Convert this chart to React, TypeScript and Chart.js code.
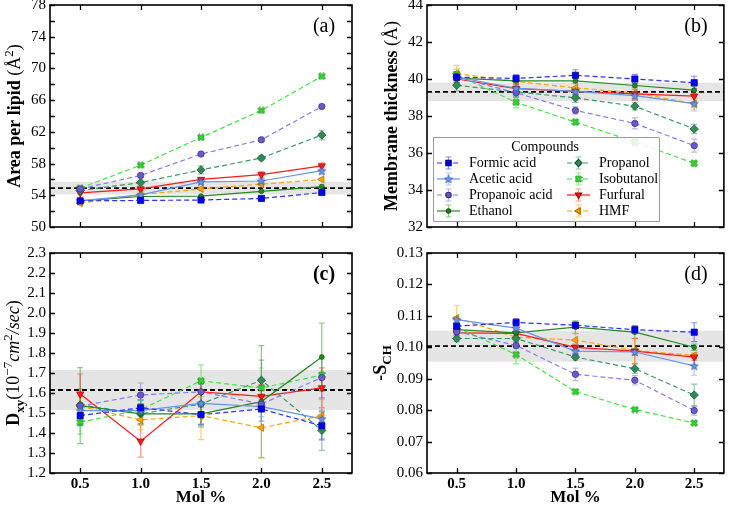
import React, { useEffect, useRef } from "react";
import { Chart, registerables } from "chart.js";
import { drawPoint } from "chart.js/helpers";

Chart.register(...registerables);

const SERIF = '"Liberation Serif", "Times New Roman", serif';

// ---- shared categories ----
const molPercent = [0.5, 1.0, 1.5, 2.0, 2.5];
const compounds = [
  "Formic acid",
  "Acetic acid",
  "Propanoic acid",
  "Ethanol",
  "Propanol",
  "Isobutanol",
  "Furfural",
  "HMF",
];

// ---- (a) area per lipid, Å² (rows follow `compounds`) ----
const areaValues = [
  [53.3, 53.35, 53.4, 53.6, 54.35],
  [53.3, 54.05, 55.7, 55.8, 57.1],
  [54.8, 56.5, 59.2, 61.0, 65.2],
  [53.3, 53.85, 53.9, 54.5, 55.1],
  [54.6, 55.6, 57.2, 58.7, 61.6],
  [54.9, 57.8, 61.3, 64.7, 69.0],
  [54.3, 54.8, 56.0, 56.6, 57.7],
  [53.0, 54.1, 54.8, 55.4, 56.0],
];
const areaErrors = [
  [0.15, 0.2, 0.2, 0.25, 0.2],
  [0.2, 0.2, 0.3, 0.3, 0.5],
  [0.2, 0.2, 0.2, 0.2, 0.2],
  [0.2, 0.1, 0.1, 0.15, 0.2],
  [0.2, 0.3, 0.5, 0.3, 0.6],
  [0.1, 0.1, 0.1, 0.1, 0.1],
  [0.15, 0.2, 0.2, 0.4, 0.4],
  [0.2, 0.2, 0.2, 0.2, 0.2],
];
const areaRef = 54.9;
const areaBand = [54.1, 55.7];
const areaTicks = [50, 52, 54, 56, 58, 60, 62, 64, 66, 68, 70, 72, 74, 76, 78];
const areaTickLabels = [50, 54, 58, 62, 66, 70, 74, 78];

// ---- (b) membrane thickness, Å ----
const thickValues = [
  [40.1, 40.03, 40.2, 40.0, 39.8],
  [40.1, 39.5, 39.33, 39.1, 38.67],
  [40.1, 39.25, 38.3, 37.6, 36.4],
  [40.05, 39.9, 39.9, 39.65, 39.4],
  [39.66, 39.3, 38.98, 38.53, 37.3],
  [40.23, 38.74, 37.67, 36.6, 35.44],
  [40.0, 39.48, 39.33, 39.2, 39.07],
  [40.29, 39.87, 39.52, 39.25, 38.67],
];
const thickErrors = [
  [0.3, 0.2, 0.3, 0.25, 0.35],
  [0.3, 0.2, 0.2, 0.2, 0.4],
  [0.3, 0.2, 0.2, 0.3, 0.35],
  [0.2, 0.15, 0.15, 0.2, 0.2],
  [0.3, 0.3, 0.25, 0.2, 0.25],
  [0.3, 0.3, 0.15, 0.2, 0.15],
  [0.3, 0.2, 0.2, 0.35, 0.3],
  [0.45, 0.25, 0.25, 0.3, 0.3],
];
const thickRef = 39.3;
const thickBand = [38.8, 39.8];
const thickTicks = [32, 34, 36, 38, 40, 42, 44];

// ---- (c) lateral diffusion, 10^-7 cm²/s ----
const diffValues = [
  [1.487, 1.526, 1.492, 1.52, 1.436],
  [1.512, 1.512, 1.548, 1.532, 1.471],
  [1.535, 1.59, 1.606, 1.545, 1.677],
  [1.537, 1.496, 1.496, 1.557, 1.78],
  [1.54, 1.496, 1.545, 1.664, 1.413],
  [1.454, 1.516, 1.661, 1.625, 1.69],
  [1.595, 1.359, 1.606, 1.583, 1.626],
  [1.533, 1.466, 1.487, 1.426, 1.487],
];
const diffErrors = [
  [0.05, 0.04, 0.05, 0.06, 0.07],
  [0.04, 0.05, 0.12, 0.05, 0.1],
  [0.06, 0.06, 0.06, 0.12, 0.1],
  [0.19, 0.05, 0.06, 0.28, 0.17],
  [0.08, 0.05, 0.1, 0.1, 0.1],
  [0.06, 0.05, 0.08, 0.1, 0.08],
  [0.1, 0.08, 0.06, 0.06, 0.1],
  [0.05, 0.05, 0.12, 0.15, 0.08],
];
const diffRef = 1.615;
const diffBand = [1.515, 1.715];
const diffTicks = [1.2, 1.3, 1.4, 1.5, 1.6, 1.7, 1.8, 1.9, 2.0, 2.1, 2.2, 2.3];

// ---- (d) order parameter -S_CH ----
const orderValues = [
  [0.1067, 0.1079, 0.107, 0.1056, 0.1048],
  [0.1088, 0.1061, 0.0988, 0.0985, 0.0941],
  [0.105, 0.1006, 0.0914, 0.0895, 0.0799],
  [0.1056, 0.1046, 0.1064, 0.1048, 0.1],
  [0.1028, 0.1028, 0.0969, 0.0932, 0.0848],
  [0.1064, 0.0977, 0.0859, 0.0802, 0.0759],
  [0.1046, 0.1044, 0.1, 0.0988, 0.0969],
  [0.1093, 0.1032, 0.1023, 0.099, 0.0974],
];
const orderErrors = [
  [0.001, 0.0012, 0.001, 0.0012, 0.003],
  [0.001, 0.001, 0.001, 0.001, 0.003],
  [0.001, 0.001, 0.002, 0.0015, 0.0015],
  [0.001, 0.001, 0.002, 0.002, 0.001],
  [0.001, 0.001, 0.001, 0.0015, 0.0035],
  [0.001, 0.003, 0.0005, 0.0005, 0.0005],
  [0.001, 0.002, 0.001, 0.004, 0.001],
  [0.004, 0.001, 0.002, 0.004, 0.001],
];
const orderRef = 0.1004;
const orderBand = [0.0954, 0.1053];
const orderTicks = [0.06, 0.07, 0.08, 0.09, 0.1, 0.11, 0.12, 0.13];

// ---- series styling ----
const markerFill = ["#0000F0", "#6495ED", "#6A5ACD", "#228B22", "#2E8B57", "#2FE02F", "#FF1A1A", "#FFA500"];
const lineColor = ["#2F2FFF", "#6495ED", "#8A7BF0", "#228B22", "#3A9A66", "#3FE83F", "#FF1A1A", "#FFA500"];
const markerEdge = ["#00008A", "#3050A0", "#3A2E8A", "#145214", "#1A5235", "#1A801A", "#A00000", "#B06E00"];
const errorColor = [
  "rgba(0,0,255,0.45)",
  "rgba(100,149,237,0.5)",
  "rgba(106,90,205,0.45)",
  "rgba(34,139,34,0.5)",
  "rgba(46,139,87,0.5)",
  "rgba(47,224,47,0.55)",
  "rgba(255,26,26,0.45)",
  "rgba(255,165,0,0.55)",
];
const dashed = [true, false, true, false, true, true, false, true];

function makeStar(fill: string, edge: string) {
  const c = document.createElement("canvas");
  c.width = 10;
  c.height = 10;
  const g = c.getContext("2d")!;
  g.beginPath();
  for (let k = 0; k < 10; k++) {
    const r = k % 2 === 0 ? 4.4 : 1.9;
    const ang = -Math.PI / 2 + (k * Math.PI) / 5;
    const px = 5 + r * Math.cos(ang);
    const py = 5.4 + r * Math.sin(ang);
    if (k === 0) g.moveTo(px, py);
    else g.lineTo(px, py);
  }
  g.closePath();
  g.fillStyle = fill;
  g.fill();
  g.strokeStyle = edge;
  g.lineWidth = 0.6;
  g.stroke();
  return c;
}

function makeCross(fill: string, edge: string) {
  const c = document.createElement("canvas");
  c.width = 8;
  c.height = 8;
  const g = c.getContext("2d")!;
  g.lineCap = "butt";
  g.strokeStyle = edge;
  g.lineWidth = 3.0;
  g.beginPath();
  g.moveTo(1.2, 1.2);
  g.lineTo(6.8, 6.8);
  g.moveTo(6.8, 1.2);
  g.lineTo(1.2, 6.8);
  g.stroke();
  g.strokeStyle = fill;
  g.lineWidth = 1.7;
  g.beginPath();
  g.moveTo(1.6, 1.6);
  g.lineTo(6.4, 6.4);
  g.moveTo(6.4, 1.6);
  g.lineTo(1.6, 6.4);
  g.stroke();
  return c;
}

function markerFor(i: number) {
  switch (i) {
    case 0:
      return { pointStyle: "rect", radius: 4.4, rotation: 0 };
    case 1:
      return { pointStyle: makeStar(markerFill[1], markerEdge[1]), radius: 4, rotation: 0 };
    case 2:
      return { pointStyle: "circle", radius: 3.2, rotation: 0 };
    case 3:
      return { pointStyle: "circle", radius: 2.4, rotation: 0 };
    case 4:
      return { pointStyle: "rectRot", radius: 4.2, rotation: 0 };
    case 5:
      return { pointStyle: makeCross(markerFill[5], markerEdge[5]), radius: 4, rotation: 0 };
    case 6:
      return { pointStyle: "triangle", radius: 4.2, rotation: 180 };
    default:
      return { pointStyle: "triangle", radius: 4.2, rotation: 270 };
  }
}

type Seg = { t: string; bold?: boolean; italic?: boolean; sub?: boolean; sup?: boolean };

function drawRotatedRich(ctx: CanvasRenderingContext2D, segs: Seg[], cx: number, cy: number, size: number) {
  const fontFor = (s: Seg) =>
    `${s.italic ? "italic " : ""}${s.bold ? "bold " : ""}${s.sub || s.sup ? Math.round(size * 0.7) : size}px ${SERIF}`;
  ctx.save();
  ctx.translate(cx, cy);
  ctx.rotate(-Math.PI / 2);
  let total = 0;
  segs.forEach((s) => {
    ctx.font = fontFor(s);
    total += ctx.measureText(s.t).width;
  });
  let x = -total / 2;
  ctx.fillStyle = "#000";
  ctx.textAlign = "left";
  ctx.textBaseline = "alphabetic";
  segs.forEach((s) => {
    ctx.font = fontFor(s);
    const dy = s.sub ? size * 0.28 : s.sup ? -size * 0.4 : 0;
    ctx.fillText(s.t, x, size * 0.34 + dy);
    x += ctx.measureText(s.t).width;
  });
  ctx.restore();
}

const decorPlugin = {
  id: "panelDecor",
  beforeDatasetsDraw(chart: any, _args: any, opts: any) {
    const { ctx, chartArea: a } = chart;
    const xs = chart.scales.x;
    const ys = chart.scales.y;
    ctx.save();
    ctx.beginPath();
    ctx.rect(a.left, a.top, a.right - a.left, a.bottom - a.top);
    ctx.clip();
    // reference band and dashed reference line
    const b0 = ys.getPixelForValue(opts.band[0]);
    const b1 = ys.getPixelForValue(opts.band[1]);
    ctx.fillStyle = "rgba(160,160,160,0.28)";
    ctx.fillRect(a.left, b1, a.right - a.left, b0 - b1);
    const r = ys.getPixelForValue(opts.ref);
    ctx.strokeStyle = "#000";
    ctx.lineWidth = 1.8;
    ctx.setLineDash([5, 3]);
    ctx.beginPath();
    ctx.moveTo(a.left, r);
    ctx.lineTo(a.right, r);
    ctx.stroke();
    ctx.setLineDash([]);
    // error bars
    chart.data.datasets.forEach((ds: any) => {
      ctx.strokeStyle = ds.errorColor;
      ctx.lineWidth = 1.2;
      ds.data.forEach((p: any, j: number) => {
        const e = ds.errors[j];
        const px = xs.getPixelForValue(p.x);
        const top = ys.getPixelForValue(p.y + e);
        const bot = ys.getPixelForValue(p.y - e);
        ctx.beginPath();
        ctx.moveTo(px, top);
        ctx.lineTo(px, bot);
        ctx.moveTo(px - 3, top);
        ctx.lineTo(px + 3, top);
        ctx.moveTo(px - 3, bot);
        ctx.lineTo(px + 3, bot);
        ctx.stroke();
      });
    });
    ctx.restore();
  },
  afterDraw(chart: any, _args: any, opts: any) {
    const { ctx, chartArea: a } = chart;
    const xs = chart.scales.x;
    const ys = chart.scales.y;
    ctx.save();
    // inward ticks on all four sides
    ctx.strokeStyle = "#000";
    ctx.lineWidth = 1.3;
    const tl = 5;
    ctx.beginPath();
    molPercent.forEach((v) => {
      const px = Math.round(xs.getPixelForValue(v)) + 0.5;
      ctx.moveTo(px, a.bottom);
      ctx.lineTo(px, a.bottom - tl);
      ctx.moveTo(px, a.top);
      ctx.lineTo(px, a.top + tl);
    });
    opts.yTicks.forEach((v: number) => {
      const py = Math.round(ys.getPixelForValue(v)) + 0.5;
      ctx.moveTo(a.left, py);
      ctx.lineTo(a.left + tl, py);
      ctx.moveTo(a.right, py);
      ctx.lineTo(a.right - tl, py);
    });
    ctx.stroke();
    // frame
    ctx.lineWidth = 1.6;
    ctx.strokeRect(a.left, a.top, a.right - a.left, a.bottom - a.top);

    // panel tag
    ctx.fillStyle = "#000";
    ctx.font = `${opts.tagBold ? "bold " : ""}20px ${SERIF}`;
    ctx.textAlign = "center";
    ctx.textBaseline = "middle";
    ctx.fillText(opts.tag, a.right - 28, a.top + 22);

    // y-axis title
    drawRotatedRich(ctx, opts.title, a.left - opts.titleOffset, (a.top + a.bottom) / 2, 18);

    // legend
    if (opts.legend) {
      const bx = a.left + 6;
      const by = a.bottom - 90;
      const bw = 226;
      const bh = 84;
      ctx.fillStyle = "rgba(255,255,255,0.85)";
      ctx.strokeStyle = "#9a9a9a";
      ctx.lineWidth = 1;
      ctx.beginPath();
      ctx.rect(bx + 0.5, by + 0.5, bw, bh);
      ctx.fill();
      ctx.stroke();
      ctx.fillStyle = "#000";
      ctx.font = `14px ${SERIF}`;
      ctx.textAlign = "center";
      ctx.textBaseline = "middle";
      ctx.fillText("Compounds", bx + 112, by + 10);
      chart.data.datasets.forEach((ds: any, i: number) => {
        const col = Math.floor(i / 4);
        const row = i % 4;
        const x0 = bx + 4 + col * 130;
        const cy = by + 26 + row * 16;
        const mx = x0 + 11.5;
        ctx.strokeStyle = ds.borderColor;
        ctx.lineWidth = 1.2;
        ctx.setLineDash(ds.borderDash || []);
        ctx.beginPath();
        ctx.moveTo(x0, cy);
        ctx.lineTo(x0 + 23, cy);
        ctx.stroke();
        ctx.setLineDash([]);
        ctx.strokeStyle = ds.errorColor;
        ctx.beginPath();
        ctx.moveTo(mx, cy - 6);
        ctx.lineTo(mx, cy + 6);
        ctx.moveTo(mx - 3, cy - 6);
        ctx.lineTo(mx + 3, cy - 6);
        ctx.moveTo(mx - 3, cy + 6);
        ctx.lineTo(mx + 3, cy + 6);
        ctx.stroke();
        ctx.fillStyle = ds.pointBackgroundColor;
        ctx.strokeStyle = ds.pointBorderColor;
        drawPoint(
          ctx,
          {
            pointStyle: ds.pointStyle,
            rotation: ds.pointRotation,
            radius: ds.pointRadius * 0.85,
            borderWidth: ds.pointBorderWidth,
          } as any,
          mx,
          cy
        );
        ctx.fillStyle = "#000";
        ctx.font = `14px ${SERIF}`;
        ctx.textAlign = "left";
        ctx.textBaseline = "middle";
        ctx.fillText(ds.label, x0 + 32, cy + 0.5);
      });
    }
    ctx.restore();
  },
};

type PanelCfg = {
  left: number;
  top: number;
  w: number;
  h: number;
  padTop: number;
  padRight: number;
  yAxisW: number;
  xAxisH: number;
  showX: boolean;
  values: number[][];
  errors: number[][];
  yMin: number;
  yMax: number;
  yTicks: number[];
  yLabels: number[];
  decimals: number;
  ref: number;
  band: number[];
  tag: string;
  tagBold: boolean;
  title: Seg[];
  titleOffset: number;
  legend: boolean;
};

function Panel({ cfg }: { cfg: PanelCfg }) {
  const ref = useRef<HTMLCanvasElement>(null);
  useEffect(() => {
    const datasets = compounds.map((name, i) => {
      const m = markerFor(i);
      return {
        label: name,
        data: cfg.values[i].map((v, j) => ({ x: molPercent[j], y: v })),
        errors: cfg.errors[i],
        errorColor: errorColor[i],
        borderColor: lineColor[i],
        borderWidth: 1.2,
        borderDash: dashed[i] ? [5, 3] : [],
        backgroundColor: markerFill[i],
        pointBackgroundColor: markerFill[i],
        pointBorderColor: markerEdge[i],
        pointBorderWidth: 0.7,
        pointStyle: m.pointStyle,
        pointRadius: m.radius,
        pointRotation: m.rotation,
        tension: 0,
        fill: false,
        clip: false,
      };
    });
    const chart = new Chart(ref.current!, {
      type: "line",
      data: { datasets } as any,
      options: {
        responsive: false,
        animation: false,
        devicePixelRatio: 1,
        events: [],
        layout: { padding: { top: cfg.padTop, right: cfg.padRight, left: 0, bottom: 0 } },
        plugins: {
          legend: { display: false },
          tooltip: { enabled: false },
          panelDecor: {
            ref: cfg.ref,
            band: cfg.band,
            yTicks: cfg.yTicks,
            tag: cfg.tag,
            tagBold: cfg.tagBold,
            title: cfg.title,
            titleOffset: cfg.titleOffset,
            legend: cfg.legend,
          },
        } as any,
        scales: {
          x: {
            type: "linear",
            min: 0.25,
            max: 2.75,
            afterBuildTicks: (s: any) => {
              s.ticks = molPercent.map((v) => ({ value: v }));
            },
            afterFit: (s: any) => {
              s.height = cfg.xAxisH;
            },
            grid: { display: false, drawTicks: false },
            border: { display: false },
            ticks: {
              display: cfg.showX,
              padding: 3,
              autoSkip: false,
              maxRotation: 0,
              color: "#000",
              font: { family: SERIF, size: 15, weight: "bold", lineHeight: 1.1 },
              callback: (v: any) => Number(v).toFixed(1),
            },
            title: {
              display: cfg.showX,
              text: "Mol %",
              color: "#000",
              font: { family: SERIF, size: 17, weight: "bold", lineHeight: 1.1 },
              padding: { top: 0, bottom: 1 },
            },
          },
          y: {
            type: "linear",
            min: cfg.yMin,
            max: cfg.yMax,
            afterBuildTicks: (s: any) => {
              s.ticks = cfg.yTicks.map((v) => ({ value: v }));
            },
            afterFit: (s: any) => {
              s.width = cfg.yAxisW;
            },
            grid: { display: false, drawTicks: false },
            border: { display: false },
            ticks: {
              padding: 4,
              autoSkip: false,
              color: "#000",
              font: { family: SERIF, size: 15 },
              callback: (v: any) =>
                cfg.yLabels.some((l) => Math.abs(l - Number(v)) < 1e-9) ? Number(v).toFixed(cfg.decimals) : "",
            },
          },
        } as any,
      },
      plugins: [decorPlugin as any],
    });
    return () => chart.destroy();
  }, []);
  return (
    <canvas
      ref={ref}
      width={cfg.w}
      height={cfg.h}
      style={{ position: "absolute", left: cfg.left, top: cfg.top, width: cfg.w, height: cfg.h }}
    />
  );
}

const panels: PanelCfg[] = [
  {
    left: 0, top: -10, w: 364, h: 250, padTop: 15, padRight: 12, yAxisW: 50, xAxisH: 12, showX: false,
    values: areaValues, errors: areaErrors, yMin: 50, yMax: 78, yTicks: areaTicks, yLabels: areaTickLabels,
    decimals: 0, ref: areaRef, band: areaBand, tag: "(a)", tagBold: false,
    title: [{ t: "Area per lipid ", bold: true }, { t: "(Å" }, { t: "2", sup: true }, { t: ")" }],
    titleOffset: 36, legend: false,
  },
  {
    left: 364, top: -10, w: 365, h: 250, padTop: 15, padRight: 3, yAxisW: 63, xAxisH: 12, showX: false,
    values: thickValues, errors: thickErrors, yMin: 32, yMax: 44, yTicks: thickTicks, yLabels: thickTicks,
    decimals: 0, ref: thickRef, band: thickBand, tag: "(b)", tagBold: false,
    title: [{ t: "Membrane thickness ", bold: true }, { t: "(Å)" }],
    titleOffset: 36, legend: true,
  },
  {
    left: 0, top: 240, w: 364, h: 268, padTop: 11, padRight: 12, yAxisW: 50, xAxisH: 35, showX: true,
    values: diffValues, errors: diffErrors, yMin: 1.2, yMax: 2.3, yTicks: diffTicks, yLabels: diffTicks,
    decimals: 1, ref: diffRef, band: diffBand, tag: "(c)", tagBold: true,
    title: [
      { t: "D", bold: true },
      { t: "xy", bold: true, sub: true },
      { t: "(10" },
      { t: "−7", sup: true },
      { t: "cm", italic: true },
      { t: "2", sup: true },
      { t: "/sec", italic: true },
      { t: ")" },
    ],
    titleOffset: 37, legend: false,
  },
  {
    left: 364, top: 240, w: 365, h: 268, padTop: 11, padRight: 3, yAxisW: 63, xAxisH: 35, showX: true,
    values: orderValues, errors: orderErrors, yMin: 0.06, yMax: 0.13, yTicks: orderTicks, yLabels: orderTicks,
    decimals: 2, ref: orderRef, band: orderBand, tag: "(d)", tagBold: false,
    title: [{ t: "-S", bold: true }, { t: "CH", bold: true, sub: true }],
    titleOffset: 47, legend: false,
  },
];

export default function App() {
  return (
    <div
      style={{
        position: "fixed",
        left: 0,
        top: 0,
        width: 729,
        height: 508,
        overflow: "hidden",
        background: "#fff",
      }}
    >
      {panels.map((p, i) => (
        <Panel key={i} cfg={p} />
      ))}
    </div>
  );
}
